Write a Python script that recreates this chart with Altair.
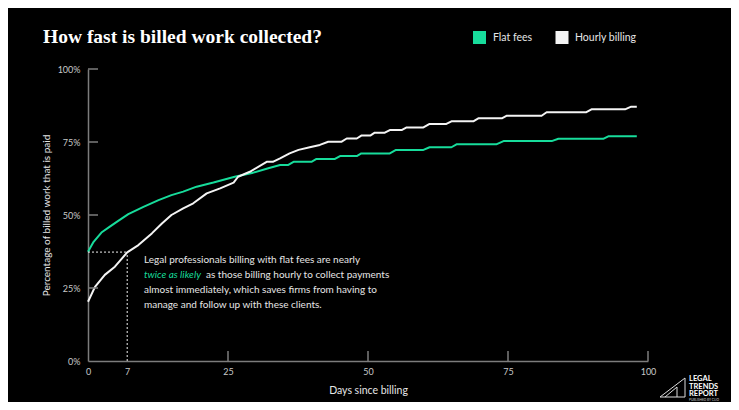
import altair as alt
import pandas as pd

# ---------------- data ----------------
series_names = ["Flat fees", "Hourly billing"]
series_colors = ["#17dc9b", "#f4f4f4"]

flat_days = [0, 1, 2.4, 3.9, 5.4, 7.2, 9.9, 12.6, 14.9, 17, 19.4, 22.4, 26.2, 29.5,
             32.2, 34.3, 35.7, 36.7, 39.9, 40.8, 44.1, 45, 48, 48.8, 53.9, 55, 59.9,
             61, 64.9, 65.8, 72.9, 74.2, 82.8, 84, 92, 93, 98]
flat_pct = [37.4, 40.8, 44.0, 46.0, 48.0, 50.3, 52.8, 55.1, 56.8, 58.0, 59.7, 61.1, 63.1, 64.5,
            66.0, 67.1, 67.1, 68.2, 68.2, 69.2, 69.2, 70.2, 70.2, 71.1, 71.1, 72.3, 72.3,
            73.2, 73.2, 74.2, 74.2, 75.3, 75.3, 76.1, 76.1, 77.0, 77.0]

hourly_days = [0, 1.25, 3, 4.8, 7, 9, 11.4, 13.2, 14.9, 17, 18.8, 21.2, 23.6, 26, 26.8,
               28.9, 31.9, 33, 34.3, 36, 37.6, 39.6, 41.4, 42.9, 45.3, 46.2, 48, 48.8,
               50.4, 51.2, 53, 53.9, 56, 56.9, 59.9, 61, 64, 64.9, 68.8, 69.7, 73.9, 74.8,
               81, 81.9, 89, 89.9, 95.9, 97, 98]
hourly_pct = [20.3, 25.4, 29.5, 32.3, 37.2, 39.7, 43.7, 47.1, 50.0, 52.3, 54.0, 57.4, 59.1, 61.1, 63.1,
              64.8, 68.2, 68.2, 69.4, 71.1, 72.3, 73.2, 74.0, 75.1, 75.1, 76.2, 76.2, 77.2,
              77.2, 78.2, 78.2, 79.1, 79.1, 80.0, 80.0, 81.2, 81.2, 82.1, 82.1, 83.1, 83.1, 84.0,
              84.0, 85.2, 85.2, 86.2, 86.2, 87.1, 87.1]

x_tick_labels = [0, 7, 25, 50, 75, 100]
x_inner_ticks = [25, 50, 75, 100]
y_tick_labels = [0, 25, 50, 75, 100]
y_inner_ticks = [25, 50, 75, 100]

ref_day = 7
ref_pct = 37.3

title_text = "How fast is billed work collected?"
note_line1 = "Legal professionals billing with flat fees are nearly"
note_em = "twice as likely"
note_line2_rest = "as those billing hourly to collect payments"
note_lines_rest = ["almost immediately, which saves firms from having to",
                   "manage and follow up with these clients."]
logo_lines = ["LEGAL", "TRENDS", "REPORT"]
logo_small = "PUBLISHED BY CLIO"

# ---------------- build tables ----------------
df = pd.concat([
    pd.DataFrame({"day": flat_days, "pct": flat_pct, "series": series_names[0]}),
    pd.DataFrame({"day": hourly_days, "pct": hourly_pct, "series": series_names[1]}),
], ignore_index=True)

ref_df = pd.DataFrame({
    "day": [0, ref_day], "day2": [ref_day, ref_day],
    "pct": [ref_pct, 0], "pct2": [ref_pct, ref_pct],
})
xt_df = pd.DataFrame({"day": x_inner_ticks})
yt_df = pd.DataFrame({"pct": y_inner_ticks})

W, H = 560, 292
FONT = "Lato"
AXIS_COL = "#7c7c7c"
LABEL_COL = "#c9c9c9"
TEXT_COL = "#e6e6e6"

xs = alt.Scale(domain=[0, 100], nice=False, zero=False)
ys = alt.Scale(domain=[0, 100], nice=False, zero=False)

x_axis = alt.Axis(
    values=x_tick_labels, ticks=False, grid=False, domainColor=AXIS_COL, domainWidth=1.5,
    labelColor=LABEL_COL, labelFont=FONT, labelFontSize=9, labelPadding=6,
    title="Days since billing", titleFont=FONT, titleFontSize=10.5, titleFontWeight="normal",
    titleColor=TEXT_COL, titlePadding=9, labelFlush=False)
y_axis = alt.Axis(
    values=y_tick_labels, ticks=False, grid=False, domainColor=AXIS_COL, domainWidth=1.5,
    labelExpr="datum.value + '%'",
    labelColor=LABEL_COL, labelFont=FONT, labelFontSize=9, labelPadding=8,
    title="Percentage of billed work that is paid", titleFont=FONT, titleFontSize=10,
    titleFontWeight="normal", titleColor=TEXT_COL, titlePadding=6)

lines = alt.Chart(df).mark_line(strokeWidth=2, strokeJoin="round").encode(
    x=alt.X("day:Q", scale=xs, axis=x_axis),
    y=alt.Y("pct:Q", scale=ys, axis=y_axis),
    color=alt.Color("series:N", scale=alt.Scale(domain=series_names, range=series_colors), legend=None),
    order=alt.Order("day:Q"),
)

ref_rules = alt.Chart(ref_df).mark_rule(color="#f0f0f0", strokeWidth=1, strokeDash=[2, 2]).encode(
    x=alt.X("day:Q", scale=xs, axis=x_axis), x2="day2:Q",
    y=alt.Y("pct:Q", scale=ys, axis=y_axis), y2="pct2:Q",
)

x_ticks = alt.Chart(xt_df).mark_rule(color=AXIS_COL, strokeWidth=1.5).encode(
    x=alt.X("day:Q", scale=xs, axis=x_axis), y=alt.value(H), y2=alt.value(H - 10),
)
y_ticks = alt.Chart(yt_df).mark_rule(color=AXIS_COL, strokeWidth=1.5).encode(
    y=alt.Y("pct:Q", scale=ys, axis=y_axis), x=alt.value(0), x2=alt.value(10),
)

one = pd.DataFrame({"a": [0]})


def txt(text, x, y, size, color=TEXT_COL, font=FONT, weight="normal", style="normal",
        align="left", baseline="middle"):
    return alt.Chart(one).mark_text(
        text=text, font=font, fontSize=size, color=color, fontWeight=weight,
        fontStyle=style, align=align, baseline=baseline,
    ).encode(x=alt.value(x), y=alt.value(y))


title = txt(title_text, -45, -26, 19.5, color="#ffffff", font="Liberation Serif",
            weight="bold", baseline="alphabetic")

legend_sq = [
    alt.Chart(one).mark_square(size=169, filled=True, opacity=1, color=series_colors[0]).encode(
        x=alt.value(391.5), y=alt.value(-31.5)),
    alt.Chart(one).mark_square(size=169, filled=True, opacity=1, color=series_colors[1]).encode(
        x=alt.value(474), y=alt.value(-31.5)),
]
legend_tx = [
    txt(series_names[0], 405, -31.5, 10.5),
    txt(series_names[1], 487, -31.5, 10.5),
]

note = [
    txt(note_line1, 56, 191, 10),
    txt(note_em, 56, 206, 10, color=series_colors[0], style="italic"),
    txt(note_line2_rest, 118, 206, 10),
    txt(note_lines_rest[0], 56, 221, 10),
    txt(note_lines_rest[1], 56, 235.5, 10),
]

logo = [
    txt(logo_lines[0], 601, 310, 7.5, color="#ffffff", weight="bold"),
    txt(logo_lines[1], 601, 317.5, 7.5, color="#ffffff", weight="bold"),
    txt(logo_lines[2], 601, 325, 7.5, color="#ffffff", weight="bold"),
    txt(logo_small, 601, 330.5, 3.2, color="#cccccc"),
]
segments = [
    (572, 328, 597, 309), (597, 309, 597, 328), (572, 328, 597, 328),
    (577, 328, 589, 318), (589, 318, 589, 328),
]
for (a, b, c, d) in segments:
    logo.append(alt.Chart(one).mark_rule(color="#dddddd", strokeWidth=1).encode(
        x=alt.value(a), y=alt.value(b), x2=alt.value(c), y2=alt.value(d)))

chart = alt.layer(
    lines, ref_rules, x_ticks, y_ticks, title, *legend_sq, *legend_tx, *note, *logo
).properties(
    width=W, height=H,
    autosize=alt.AutoSizeParams(type="none"),
    padding={"left": 80, "top": 61, "right": 83, "bottom": 41},
).configure(
    background="#000000",
).configure_view(stroke=None)

chart.save("out.html", embed_options={"renderer": "svg", "actions": False})
